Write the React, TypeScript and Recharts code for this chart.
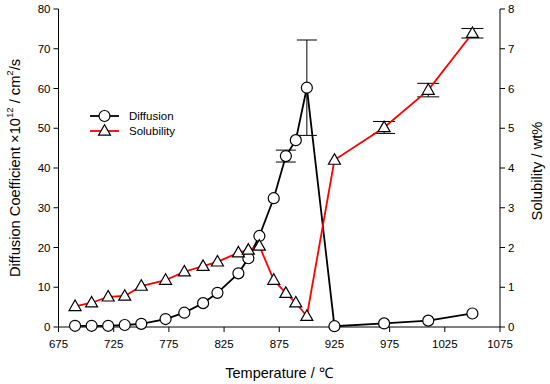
import React from "react";
import {
  ComposedChart, Line, XAxis, YAxis, ErrorBar, Legend,
} from "recharts";

const temps = [690, 705, 720, 735, 750, 772, 789, 806, 819, 838, 847, 857, 870, 881, 890, 900, 925, 970, 1010, 1050];
const diffusion = [0.3, 0.3, 0.3, 0.5, 0.8, 2.0, 3.6, 6.0, 8.6, 13.5, 17.3, 22.9, 32.4, 43.0, 47.0, 60.2, 0.2, 0.9, 1.6, 3.4];
const diffusionErr = [null, null, null, null, null, null, null, null, null, null, null, null, null, 1.5, null, 12, null, null, null, null];
const solubility = [0.52, 0.61, 0.76, 0.78, 1.03, 1.18, 1.39, 1.53, 1.64, 1.87, 1.94, 2.04, 1.18, 0.85, 0.61, 0.27, 4.2, 5.02, 5.96, 7.39];
const solubilityErr = [null, null, null, null, null, null, null, null, null, null, null, null, null, null, null, null, null, 0.15, 0.17, 0.12];

const xTicks = [675, 725, 775, 825, 875, 925, 975, 1025, 1075];
const leftTicks = [0, 10, 20, 30, 40, 50, 60, 70, 80];
const rightTicks = [0, 1, 2, 3, 4, 5, 6, 7, 8];

const data = temps.map((t, i) => ({
  t,
  diffusion: diffusion[i],
  dErr: diffusionErr[i],
  solubility: solubility[i],
  sErr: solubilityErr[i],
}));

const FONT = "'Liberation Sans', Arial, sans-serif";
const tickStyle = { fill: "#000", fontSize: 11.5, fontFamily: FONT };

function Triangle(props: any) {
  const { cx, cy, key } = props;
  if (cx == null || cy == null) return null;
  return (
    <polygon
      key={key}
      points={`${cx},${cy - 6.3} ${cx - 6},${cy + 4.2} ${cx + 6},${cy + 4.2}`}
      fill="#fff"
      stroke="#000"
      strokeWidth={1.2}
    />
  );
}

function LegendBox() {
  return (
    <svg width={110} height={40} style={{ overflow: "visible", display: "block" }}>
      <line x1={2} x2={31} y1={10} y2={10} stroke="#000" strokeWidth={1.8} />
      <circle cx={16.5} cy={10} r={5.5} fill="#fff" stroke="#000" strokeWidth={1.2} />
      <text x={41} y={14} fontSize={11.5} fontFamily={FONT}>Diffusion</text>
      <line x1={2} x2={31} y1={25} y2={25} stroke="#ff0000" strokeWidth={1.8} />
      <Triangle cx={16.5} cy={25} />
      <text x={41} y={29} fontSize={11.5} fontFamily={FONT}>Solubility</text>
    </svg>
  );
}

function LeftLabel() {
  const cx = 15, cy = 168;
  return (
    <text
      x={cx} y={cy} transform={`rotate(-90, ${cx}, ${cy})`}
      textAnchor="middle" dominantBaseline="central"
      fontSize={14.7} fontFamily={FONT} fill="#000"
    >
      Diffusion Coefficient  ×10
      <tspan dy={-6} fontSize={9.5}>12</tspan>
      <tspan dy={6}> / cm</tspan>
      <tspan dy={-6} fontSize={9.5}>2</tspan>
      <tspan dy={6}>/s</tspan>
    </text>
  );
}

function RightLabel() {
  const cx = 537, cy = 171;
  return (
    <text
      x={cx} y={cy} transform={`rotate(-90, ${cx}, ${cy})`}
      textAnchor="middle" dominantBaseline="central"
      fontSize={14.7} fontFamily={FONT} fill="#000"
    >
      Solubility / wt%
    </text>
  );
}

function BottomLabel() {
  return (
    <text x={279} y={378} textAnchor="middle" fontSize={14.5} fontFamily={FONT} fill="#000">
      Temperature / ℃
    </text>
  );
}

export default function App() {
  return (
    <div style={{ position: "absolute", left: 0, top: 0, width: 550, height: 384, background: "#fff" }}>
      <ComposedChart
        width={550}
        height={384}
        data={data}
        margin={{ top: 9, right: 0, bottom: 0, left: 0 }}
      >
        <XAxis
          dataKey="t"
          type="number"
          domain={[675, 1075]}
          ticks={xTicks}
          allowDataOverflow
          height={57}
          tick={tickStyle}
          tickSize={5}
          tickMargin={8}
          stroke="#000"
          label={<BottomLabel />}
        />
        <XAxis
          xAxisId="top"
          dataKey="t"
          type="number"
          orientation="top"
          domain={[675, 1075]}
          height={0}
          tick={false}
          tickLine={false}
          stroke="#000"
        />
        <YAxis
          yAxisId="left"
          domain={[0, 80]}
          ticks={leftTicks}
          width={58.5}
          tick={tickStyle}
          tickSize={5}
          tickMargin={3}
          stroke="#000"
          label={<LeftLabel />}
        />
        <YAxis
          yAxisId="right"
          orientation="right"
          domain={[0, 8]}
          ticks={rightTicks}
          width={50}
          tick={tickStyle}
          tickSize={5}
          tickMargin={3}
          stroke="#000"
          label={<RightLabel />}
        />
        <Legend
          layout="horizontal"
          verticalAlign="middle"
          align="center"
          content={<LegendBox />}
          wrapperStyle={{ position: "absolute", left: 88, top: 106, width: 110, height: 40 }}
        />
        <Line
          yAxisId="left"
          dataKey="diffusion"
          stroke="#000"
          strokeWidth={1.8}
          dot={{ r: 5.5, fill: "#fff", stroke: "#000", strokeWidth: 1.2 }}
          activeDot={false}
          isAnimationActive={false}
        >
          <ErrorBar dataKey="dErr" width={10} stroke="#000" strokeWidth={1} direction="y" />
        </Line>
        <Line
          yAxisId="right"
          dataKey="solubility"
          stroke="#ff0000"
          strokeWidth={1.8}
          dot={<Triangle />}
          activeDot={false}
          isAnimationActive={false}
        >
          <ErrorBar dataKey="sErr" width={11} stroke="#000" strokeWidth={1} direction="y" />
        </Line>
      </ComposedChart>
    </div>
  );
}
